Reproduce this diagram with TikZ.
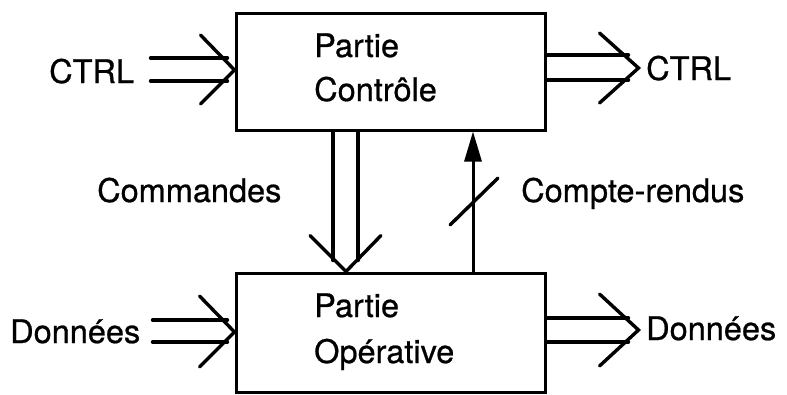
\documentclass[tikz,border=0pt]{standalone}
\usepackage{fontspec}
\setmainfont{TeX Gyre Heros}[FakeBold=0.7]
\usetikzlibrary{calc,arrows.meta}
\tikzset{
  box/.style={draw, line width=3pt, minimum width=309pt, minimum height=117pt, inner sep=0pt},
  lab/.style={anchor=base west, inner sep=0pt, font=\fontsize{32.5}{39}\selectfont},
  ln/.style={line width=3.4pt, line cap=round, line join=miter},
}
\begin{document}
\begin{tikzpicture}[x=1pt, y=-1pt]
\useasboundingbox (0,0) rectangle (787,394);
% boxes
\node[box, minimum height=117pt] (pc) at (390.5,71.5) {};
\node[box, minimum height=119pt] (po) at (390.5,332.5) {};
% texts
\node[lab] (pc1) at (314,57) {Partie};
\node[lab] (pc2) at (314,101) {Contrôle};
\node[lab] (po1) at (314,317) {Partie};
\node[lab] (po2) at (314,363) {Opérative};
\node[lab] (ctrlin) at (49,83) {CTRL};
\node[lab] (ctrlout) at (646,80) {CTRL};
\node[lab] (din) at (10,343) {Données};
\node[lab] (dout) at (646,340) {Données};
\node[lab] (cmd) at (97,202) {Commandes};
\node[lab] (cr) at (521,202) {Compte-rendus};
% tips
\coordinate (t1) at ($(pc.west)+(0,-1.5)$);
\coordinate (t2) at ($(pc.east)+(92,-3.5)$);
\coordinate (t3) at ($(po.west)+(0,-0.5)$);
\coordinate (t4) at ($(po.east)+(92,-2.5)$);
\coordinate (cmdx) at (346,0);
\coordinate (crx) at (473,0);
% CTRL in
\draw[ln] ($(t1)+(-84,-12)$) -- ($(t1)+(-7,-12)$);
\draw[ln] ($(t1)+(-84,11)$) -- ($(t1)+(-7,11)$);
\draw[ln] ($(t1)+(-34,-35)$) -- (t1) -- ($(t1)+(-34,34)$);
% CTRL out
\draw[ln] ($(pc.east)+(0,-16.5)$) -- ($(t2)+(-10,-13)$);
\draw[ln] ($(pc.east)+(0,8.5)$) -- ($(t2)+(-10,12)$);
\draw[ln] ($(t2)+(-39,-35)$) -- (t2) -- ($(t2)+(-39,35)$);
% Donnees in
\draw[ln] ($(t3)+(-82,-12)$) -- ($(t3)+(-7,-12)$);
\draw[ln] ($(t3)+(-82,10)$) -- ($(t3)+(-7,10)$);
\draw[ln] ($(t3)+(-35,-36)$) -- (t3) -- ($(t3)+(-35,35)$);
% Donnees out
\draw[ln] ($(po.east)+(0,-14.5)$) -- ($(t4)+(-10,-12)$);
\draw[ln] ($(po.east)+(0,9.5)$) -- ($(t4)+(-10,12)$);
\draw[ln] ($(t4)+(-39,-36)$) -- (t4) -- ($(t4)+(-39,36)$);
% Commandes
\coordinate (t5) at (cmdx |- po.north);
\draw[ln] ($(cmdx |- pc.south)+(-13,0)$) -- ($(t5)+(-13,-11)$);
\draw[ln] ($(cmdx |- pc.south)+(12,0)$) -- ($(t5)+(12,-11)$);
\draw[ln] ($(t5)+(-36,-36)$) -- (t5) -- ($(t5)+(35,-36)$);
% Compte-rendus
\draw[line width=3pt, -{Triangle[length=30pt,width=17pt]}] (crx |- po.north) -- (crx |- pc.south);
\draw[ln] (450,225) -- (498,178);
\end{tikzpicture}
\end{document}
